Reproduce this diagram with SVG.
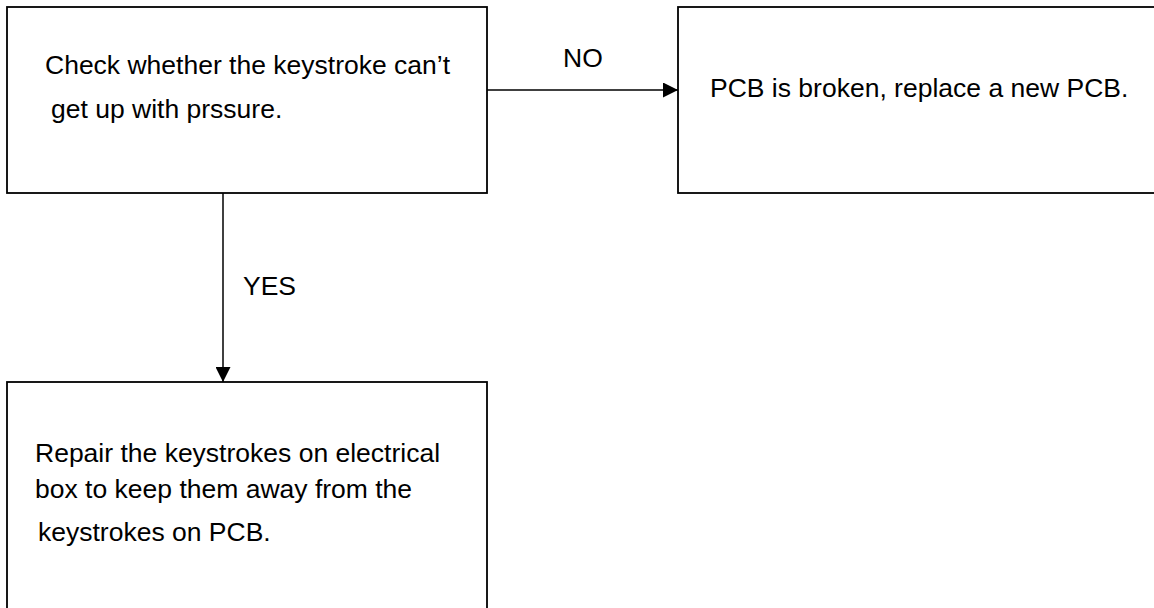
<svg xmlns="http://www.w3.org/2000/svg" width="1154" height="608" viewBox="0 0 1154 608">
<style>
.box{fill:#fff;stroke:#000;stroke-width:1.8}
.conn{fill:none;stroke:#000;stroke-width:1.5}
.t{font-family:"Liberation Sans",Arial,sans-serif;font-size:26.5px;fill:#000}
</style>
<defs>
<marker id="ah" markerWidth="15" markerHeight="15" refX="15" refY="7.5" orient="auto" markerUnits="userSpaceOnUse">
<path d="M0,0 L15,7.5 L0,15 Z" fill="#000"/>
</marker>
</defs>
<rect width="1154" height="608" fill="#fff"/>
<g id="connectors">
<line class="conn" x1="487" y1="90" x2="678" y2="90" marker-end="url(#ah)"/>
<line class="conn" x1="223" y1="193" x2="223" y2="382" marker-end="url(#ah)"/>
<text class="t" x="563" y="67">NO</text>
<text class="t" x="243" y="295">YES</text>
</g>
<g id="node-check">
<rect class="box" x="7" y="7" width="480" height="186"/>
<text class="t" x="45" y="74">Check whether the keystroke can’t</text>
<text class="t" x="51" y="118">get up with prssure.</text>
</g>
<g id="node-pcb">
<rect class="box" x="678" y="7" width="500" height="186"/>
<text class="t" x="710" y="97">PCB is broken, replace a new PCB.</text>
</g>
<g id="node-repair">
<rect class="box" x="7" y="382" width="480" height="240"/>
<text class="t" x="35" y="462">Repair the keystrokes on electrical</text>
<text class="t" x="35" y="498">box to keep them away from the</text>
<text class="t" x="38" y="541">keystrokes on PCB.</text>
</g>
</svg>
